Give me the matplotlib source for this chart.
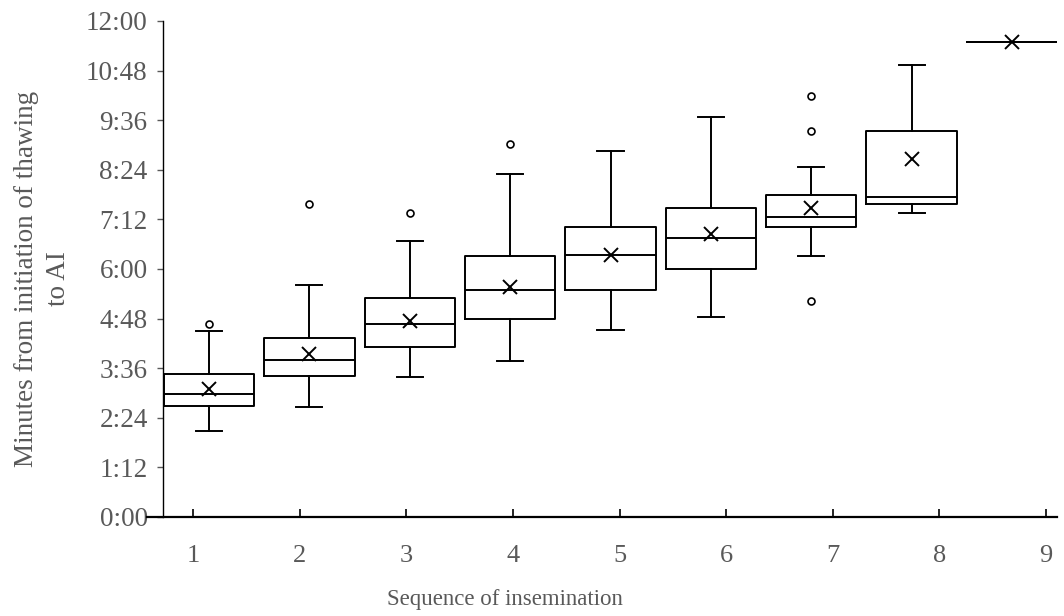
import matplotlib
matplotlib.use('Agg')
import matplotlib.pyplot as plt
from matplotlib.ticker import FuncFormatter

# 时间单位：秒
sequence = [1, 2, 3, 4, 5, 6, 7, 8, 9]
whisker_low = [125, 160, 203, 226, 272, 290, 379, 442, 690]
q1 = [161, 204, 247, 287, 330, 360, 421, 454, 690]
median = [178, 228, 280, 329, 380, 405, 436, 465, 690]
q3 = [208, 260, 318, 379, 421, 449, 467, 560, 690]
whisker_high = [270, 337, 400, 498, 532, 580, 508, 656, 690]
mean = [186, 237, 284, 334, 380, 411, 448, 519, 690]
outliers = [[280], [455], [441], [542], [], [], [611, 561, 313], [], []]

plt.rcParams['font.family'] = ['Liberation Serif', 'DejaVu Serif']
grey = '#595959'

stats = []
for i in range(len(sequence)):
    stats.append({'whislo': whisker_low[i], 'q1': q1[i], 'med': median[i], 'q3': q3[i],
                  'whishi': whisker_high[i], 'mean': mean[i], 'fliers': outliers[i]})

fig = plt.figure(figsize=(10.64, 6.16), dpi=100)
ax = fig.add_axes([163 / 1064, 1 - 517 / 616, 894 / 1064, 496 / 616])

line = dict(color='black', linewidth=1.4)
ax.bxp(stats, positions=sequence, widths=0.9, showmeans=True, capwidths=0.26,
       boxprops=line, whiskerprops=line, capprops=line, medianprops=line,
       meanprops=dict(marker='x', markeredgecolor='black', markersize=10, markeredgewidth=1.4),
       flierprops=dict(marker='o', markerfacecolor='none', markeredgecolor='black',
                       markersize=5, markeredgewidth=1.2),
       manage_ticks=False)

ax.set_xlim(0.542, 9.448)
ax.set_ylim(0, 720)
ax.set_yticks(range(0, 721, 72))
ax.yaxis.set_major_formatter(FuncFormatter(lambda v, p: '%d:%02d' % (int(v) // 60, int(v) % 60)))
ax.tick_params(axis='y', direction='out', length=4, width=1, color=grey,
               labelsize=19.5, labelcolor=grey, pad=7)
ax.set_xticks([])
for s in ['top', 'right', 'bottom']:
    ax.spines[s].set_visible(False)
ax.spines['left'].set_linewidth(1)
ax.patch.set_alpha(0)

ax.set_ylabel('Minutes from initiation of thawing\nto AI', fontsize=19.5, color=grey,
              linespacing=1.4, ha='center', va='center')
ax.yaxis.set_label_coords(-0.135, 0.48)

# 横轴刻度单独一个坐标轴（与箱体位置略有错位）
ax2 = fig.add_axes([147 / 1064, 1 - 517 / 616, 910 / 1064, 496 / 616])
ax2.patch.set_alpha(0)
ax2.set_xlim(0.5685, 9.103)
ax2.set_xticks(sequence)
ax2.set_yticks([])
for s in ['top', 'right', 'left']:
    ax2.spines[s].set_visible(False)
ax2.spines['bottom'].set_linewidth(1.6)
ax2.tick_params(axis='x', direction='in', length=6, width=1.2, color='black',
                labelsize=19, labelcolor=grey, pad=20)
ax2.set_xlabel('Sequence of insemination', fontsize=16.5, color=grey, va='center')
ax2.xaxis.set_label_coords(0.393, -0.167)

fig.savefig('out.png', dpi=100)
